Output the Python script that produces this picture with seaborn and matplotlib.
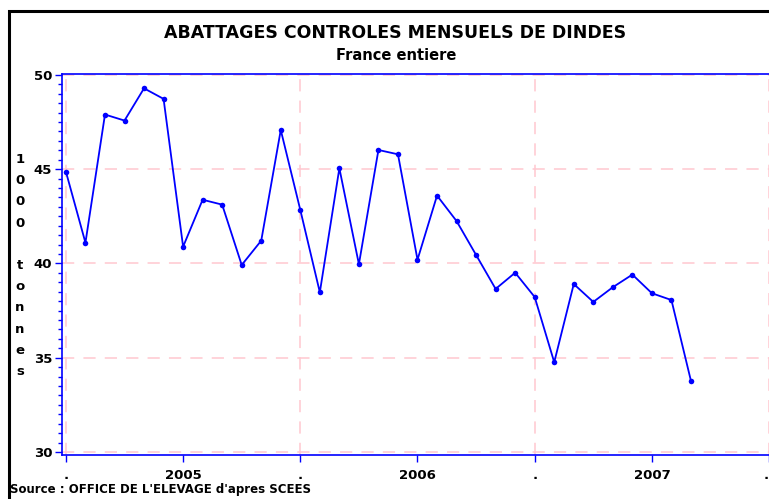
import matplotlib
matplotlib.use("Agg")
import matplotlib.pyplot as plt
import seaborn as sns
import pandas as pd
import numpy as np
from matplotlib.patches import Rectangle
from matplotlib.ticker import MultipleLocator

# Data: monthly values, July 2004 .. March 2007 (1000 tonnes)
month_index = list(range(33))
values = [44.87, 41.10, 47.90, 47.58, 49.29, 48.73, 40.89, 43.38, 43.12, 39.92,
          41.21, 47.08, 42.84, 38.47, 45.05, 39.96, 46.02, 45.79, 40.20, 43.60,
          42.25, 40.45, 38.65, 39.51, 38.22, 34.76, 38.91, 37.96, 38.74, 39.41,
          38.42, 38.06, 33.77]
xtick_pos = [0, 6, 12, 18, 24, 30, 36]
xtick_labels = [".", "2005", ".", "2006", ".", "2007", "."]
ytick_vals = [30, 35, 40, 45, 50]

title = "ABATTAGES CONTROLES MENSUELS DE DINDES"
subtitle = "France entiere"
ylabel = "1\n0\n0\n0\n\nt\no\nn\nn\ne\ns"
source = "Source : OFFICE DE L'ELEVAGE d'apres SCEES"

df = pd.DataFrame({"mois": month_index, "valeur": values})

sns.set_style("white")
plt.rcParams['font.family'] = ['DejaVu Sans']
plt.rcParams['text.color'] = 'black'
plt.rcParams['xtick.color'] = 'black'
plt.rcParams['ytick.color'] = 'black'

W, H = 769, 499
fig = plt.figure(figsize=(W / 100, H / 100), dpi=100)
ax_left, ax_right_px, ax_top, ax_bot = 62, 773, 74, 455
ax = fig.add_axes([ax_left / W, 1 - ax_bot / H, (ax_right_px - ax_left) / W, (ax_bot - ax_top) / H])

blue = "#0000FF"
pink = "#FFC8D0"

# grid
for yv in ytick_vals:
    ax.axhline(yv, color=pink, lw=1.1, ls=(0, (8, 6)), zorder=0)
for xv in [0, 12, 24, 36]:
    ax.axvline(xv, color=pink, lw=1.1, ls=(0, (8, 6)), zorder=0)

sns.lineplot(data=df, x="mois", y="valeur", ax=ax, color=blue, lw=1.3,
             marker="o", markersize=4, markeredgewidth=0, markerfacecolor=blue)

ax.set_xlim(-0.2, 36.2)
ax.set_ylim(29.84, 50.05)
ax.set_xlabel("")
ax.set_ylabel("")

ax.set_xticks(xtick_pos)
ax.set_xticklabels(xtick_labels, fontsize=9.5, fontweight="bold", color="black")
ax.get_xticklabels()[-1].set_ha("right")
ax.set_yticks(ytick_vals)
ax.set_yticklabels([str(v) for v in ytick_vals], fontsize=9.5, fontweight="bold", color="black")
ax.yaxis.set_minor_locator(MultipleLocator(0.5))

ax.tick_params(axis="y", which="major", direction="out", length=5, width=1, color=blue, pad=2, left=True)
ax.tick_params(axis="y", which="minor", direction="out", length=3, width=1, color=blue, left=True)
ax.tick_params(axis="x", which="major", direction="out", length=5, width=1, color=blue, pad=5, bottom=True)

for side in ["left", "top", "bottom"]:
    ax.spines[side].set_visible(True)
    ax.spines[side].set_color(blue)
    ax.spines[side].set_linewidth(1.2)
ax.spines["right"].set_visible(False)

# texts
fig.text(395.5 / W, 1 - 33 / H, title, ha="center", va="center", fontsize=12.5, fontweight="bold", color="black")
fig.text(396 / W, 1 - 55 / H, subtitle, ha="center", va="center", fontsize=10.5, fontweight="bold", color="black")
fig.text(20 / W, 1 - 265.5 / H, ylabel, ha="center", va="center", fontsize=9.5, fontweight="bold",
         linespacing=1.82, color="black")
fig.text(10 / W, 1 - 489 / H, source, ha="left", va="center", fontsize=8.5, fontweight="bold", color="black")

# outer frame
fig.patches.append(Rectangle((9 / W, -0.2), 2.0, 1.2 - 10.5 / H, transform=fig.transFigure,
                             fill=False, ec="black", lw=2.2))

fig.savefig("out.png", dpi=100)
